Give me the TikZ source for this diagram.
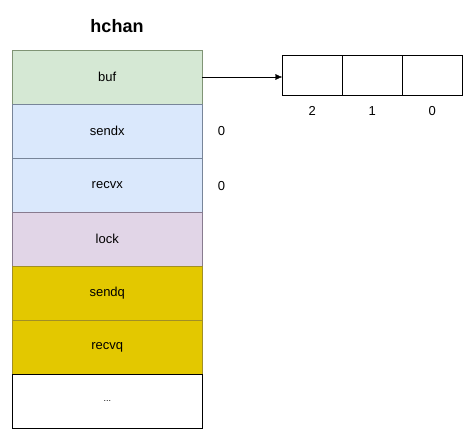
\documentclass[tikz,border=0pt]{standalone}
\usepackage{fontspec}
\setmainfont{Liberation Sans}
\usetikzlibrary{positioning}
\usetikzlibrary{arrows.meta}
\definecolor{bufg}{HTML}{D5E8D4}
\definecolor{bufb}{HTML}{82B366}
\definecolor{idxf}{HTML}{DAE8FC}
\definecolor{idxb}{HTML}{6C8EBF}
\definecolor{lockf}{HTML}{E1D5E7}
\definecolor{lockb}{HTML}{9673A6}
\definecolor{qf}{HTML}{E3C800}
\definecolor{qb}{HTML}{B09500}
\tikzset{
    field/.style = {rectangle, draw=black, outer sep=0pt, minimum width=189.5pt, minimum height=54pt, font=\fontsize{13}{15}\selectfont},
    fieldg/.style = {field, fill=bufg, draw=bufb!40!gray},
    fieldb/.style = {field, fill=idxf, draw=idxb!40!gray},
    fieldv/.style = {field, fill=lockf, draw=lockb!40!gray},
    fieldy/.style = {field, fill=qf, draw=qb!70!gray},
    cell/.style = {rectangle, thin, draw=black, outer sep=0pt, minimum width=60pt, minimum height=40pt},
    idx/.style = {font=\fontsize{13}{15}\selectfont, label distance=8pt},
    val/.style = {font=\fontsize{13}{15}\selectfont},
    edgen/.style = {-{Latex[length=7pt,width=6pt]}, thin}
}
\begin{document}
\begin{tikzpicture}[x=1pt, y=-1pt]
  \useasboundingbox[fill=white] (0,0) rectangle (473,439);

  \node[font=\bfseries\fontsize{18}{21}\selectfont] at (117,26) (title) {hchan};

  \node[fieldg] at (107.25,77) (buf) {buf};
  \node[fieldb, below=0pt of buf] (sendx) {sendx};
  \node[fieldb, below=0pt of sendx] (recvx) {recvx};
  \node[fieldv, below=0pt of recvx] (lock) {lock};
  \node[fieldy, below=0pt of lock] (sendq) {sendq};
  \node[fieldy, below=0pt of sendq] (recvq) {recvq};
  \node[field, fill=white, below=0pt of recvq] (rest) {\fontsize{9}{10}\selectfont ...};

  \node[val] at (221.5,131) (sendxval) {0};
  \node[val] at (221.5,186) (recvxval) {0};

  \node[cell, label={[idx]below:2}] at (312.3,75) (c2) {};
  \node[cell, right=0pt of c2, label={[idx]below:1}] (c1) {};
  \node[cell, right=0pt of c1, label={[idx]below:0}] (c0) {};

  \draw[edgen] (buf.east) -- (buf.east -| c2.west);
\end{tikzpicture}
\end{document}
